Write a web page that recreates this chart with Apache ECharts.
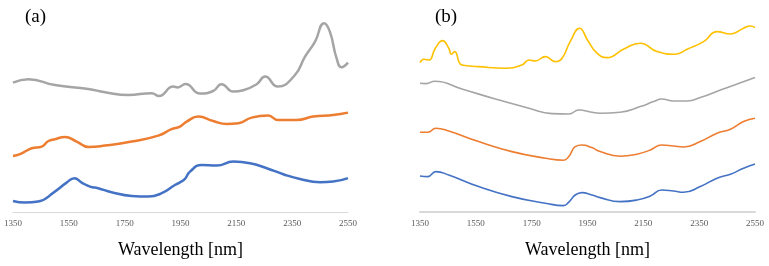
<!DOCTYPE html>
<html>
<head>
<meta charset="utf-8">
<script src="https://cdn.jsdelivr.net/npm/echarts@6/dist/echarts.min.js"></script>
<style>
html,body{margin:0;padding:0;background:#fff;}
#main{width:769px;height:266px;}
</style>
</head>
<body>
<div id="main"></div>
<script>
// x tick labels (wavelength, nm)
var xTicks=[1350,1550,1750,1950,2150,2350,2550];

// panel (a) spectra, offset units
var grayAX=[1350,1405,1500,1620,1680,1763,1847,1873,1924,1940,1968,2020,2067,2097,2139,2175,2223,2253,2298,2360,2396,2432,2464,2485,2509,2527,2550];
var grayAY=[64.7,66.4,63.5,61.5,59.9,58.5,59.4,58,62.7,62.3,64,59.2,60.5,63.9,60.2,60.9,63.9,67.7,62.7,68.5,77.7,85.2,94.4,90.2,76.9,72.4,74.7];
var orangeAX=[1350,1375,1417,1453,1477,1500,1536,1578,1620,1680,1775,1870,1918,1948,1972,2014,2067,2115,2157,2205,2264,2300,2366,2425,2497,2550];
var orangeAY=[28,28.9,31.9,32.7,35.5,36.4,37.5,35.2,32.5,33.2,35.2,38.2,41.4,42.7,45.2,47.7,45.5,44,44.4,47.2,48.2,46,46,47.7,48.5,49.7];
var blueAX=[1350,1393,1440,1500,1542,1570,1596,1626,1655,1703,1775,1835,1883,1930,1948,1966,1984,2026,2080,2139,2199,2259,2318,2378,2450,2497,2550];
var blueAY=[5.5,4.7,5.2,10.2,14.7,16.9,14.7,12.7,11.9,9.9,8,7.7,9.4,13.5,14.8,16.6,20.2,23.5,23.2,25.2,24.4,21.9,18.9,16.5,14.9,15.2,16.9];

// panel (b) spectra
var yellowBX=[1350,1364,1382,1405,1431,1453,1462,1474,1500,1560,1656,1715,1740,1763,1799,1835,1859,1888,1922,1950,1984,2020,2080,2139,2199,2265,2307,2366,2414,2462,2509,2533,2550];
var yellowBY=[74.7,76.4,76,81.9,85.7,81.9,78.9,80.2,73.5,72.7,71.9,73.5,76,75.5,77.7,75.2,76.9,85.2,91.9,86,79.4,77.2,81.5,84.4,80.2,78.9,81.4,85.2,90.2,89,91.9,93,92.2];
var grayBX=[1350,1372,1403,1500,1620,1740,1823,1883,1919,1966,1995,2067,2139,2187,2216,2258,2307,2354,2426,2486,2550];
var grayBY=[64.4,64.2,65.4,61.5,56.5,51.9,49.2,49,51,49.9,49.4,49.9,52.7,55.2,56.5,55.5,55.5,57.2,61,64,67.2];
var orangeBX=[1350,1378,1407,1453,1560,1679,1799,1864,1883,1906,1930,1966,1995,2067,2127,2175,2216,2258,2294,2354,2414,2462,2509,2550];
var orangeBY=[39.9,39.9,41.9,40.5,35.2,30.2,26.9,25.9,27.7,32.7,33.5,32.2,30.2,27.9,28.9,31,33.5,33,32.5,35.2,39.4,41.4,45.2,46.9];
var blueBX=[1350,1378,1407,1453,1560,1679,1799,1864,1883,1906,1930,1966,1995,2067,2127,2175,2216,2258,2294,2354,2414,2462,2509,2550];
var blueBY=[18,17.7,20.2,18.5,12.7,7.7,4.4,3.2,4.9,8.5,9.7,8.5,7.2,5.2,6,8,11,10.5,9.9,12.7,16.9,18.9,21.9,24];

function pairs(xs,ys){
	var out=[];
	for(var i=0;i<xs.length;i++){
		out.push([xs[i],ys[i]]);
	}
	return out;
}

function xAxisFor(idx,lineW){
	return {
		type:'value',
		gridIndex:idx,
		min:xTicks[0],
		max:xTicks[xTicks.length-1],
		interval:200,
		name:'Wavelength [nm]',
		nameLocation:'middle',
		nameGap:29,
		nameTextStyle:{fontFamily:'Liberation Serif',fontSize:18,color:'#000'},
		splitLine:{show:false},
		axisTick:{show:false},
		axisLine:{show:true,lineStyle:{color:'#d9d9d9',width:lineW}},
		axisLabel:{
			fontFamily:'Liberation Serif',fontSize:9,color:'#595959',margin:7,
			formatter:function(v){return String(v);}
		}
	};
}

function yAxisFor(idx){
	return {
		type:'value',
		gridIndex:idx,
		min:0,
		max:100,
		show:false
	};
}

function line(name,idx,color,w,xs,ys){
	return {
		name:name,
		type:'line',
		xAxisIndex:idx,
		yAxisIndex:idx,
		smooth:0.5,
		showSymbol:false,
		lineStyle:{color:color,width:w},
		data:pairs(xs,ys)
	};
}

var chart=echarts.init(document.getElementById('main'),null,{renderer:'canvas'});
chart.setOption({
	animation:false,
	backgroundColor:'#fff',
	title:[
		{text:'(a)',left:20,top:3,textStyle:{fontFamily:'Liberation Serif',fontSize:19,fontWeight:'normal',color:'#000'}},
		{text:'(b)',left:430,top:3,textStyle:{fontFamily:'Liberation Serif',fontSize:19,fontWeight:'normal',color:'#000'}}
	],
	grid:[
		{left:13,right:421,top:12,bottom:54},
		{left:420,right:14,top:12,bottom:54}
	],
	xAxis:[xAxisFor(0,1),xAxisFor(1,2)],
	yAxis:[yAxisFor(0),yAxisFor(1)],
	series:[
		line('gray a',0,'#a5a5a5',2.5,grayAX,grayAY),
		line('orange a',0,'#ed7d31',2.5,orangeAX,orangeAY),
		line('blue a',0,'#4472c4',2.5,blueAX,blueAY),
		line('yellow b',1,'#ffc000',1.6,yellowBX,yellowBY),
		line('gray b',1,'#a5a5a5',1.6,grayBX,grayBY),
		line('orange b',1,'#ed7d31',1.6,orangeBX,orangeBY),
		line('blue b',1,'#4472c4',1.6,blueBX,blueBY)
	]
});
</script>
</body>
</html>
